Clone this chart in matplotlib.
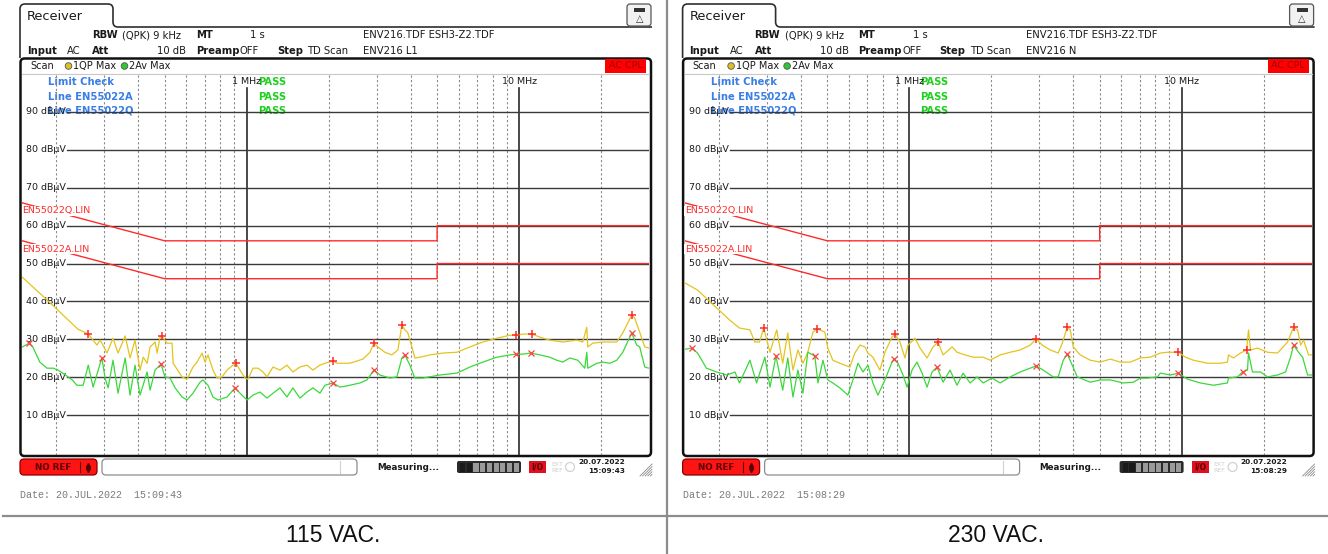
import numpy as np
import matplotlib
matplotlib.use("Agg")
import matplotlib.pyplot as plt
import matplotlib.transforms as mtransforms
from matplotlib.patches import FancyBboxPatch, Rectangle, Circle, PathPatch
from matplotlib.path import Path

W, H = 1328, 554

# EN55022 class B conducted limits (MHz, dBuV)
lim_f = [0.15, 0.5, 5.0, 5.0, 30.0]
lim_qp = [66, 56, 56, 60, 60]
lim_av = [56, 46, 46, 50, 50]

grid_db = [10, 20, 30, 40, 50, 60, 70, 80, 90]
minor_f = [0.2, 0.3, 0.4, 0.5, 0.6, 0.7, 0.8, 0.9,
           2, 3, 4, 5, 6, 7, 8, 9, 20]

# 115 VAC, line L1 : (MHz, dBuV)
l1_qp = [(0.150, 46.4), (0.185, 40.4), (0.240, 32.7), (0.262, 31.4), (0.282, 28.5),
         (0.290, 29.8), (0.307, 26.4), (0.323, 30.3), (0.337, 26.4), (0.358, 30.9),
         (0.373, 25.1), (0.389, 29.8), (0.406, 21.9), (0.417, 25.3), (0.431, 23.7),
         (0.442, 28.0), (0.461, 29.3), (0.469, 26.4), (0.481, 30.6), (0.487, 30.9),
         (0.510, 29.0), (0.532, 29.0), (0.537, 23.7), (0.579, 20.1), (0.604, 19.5),
         (0.635, 22.7), (0.657, 24.0), (0.686, 26.4), (0.703, 24.0), (0.721, 25.9),
         (0.752, 21.9), (0.778, 19.8), (0.812, 20.1), (0.847, 21.9), (0.891, 23.2),
         (0.914, 23.7), (0.945, 21.9), (0.986, 19.8), (1.011, 19.5), (1.055, 22.4),
         (1.100, 22.4), (1.148, 21.4), (1.187, 20.1), (1.249, 22.7), (1.325, 21.9),
         (1.405, 23.2), (1.478, 21.4), (1.568, 22.7), (1.664, 23.2), (1.751, 21.9),
         (1.857, 23.2), (1.938, 23.7), (2.073, 24.3), (2.145, 23.7), (2.393, 23.7),
         (2.671, 24.8), (2.834, 26.6), (2.931, 29.0), (3.032, 28.0), (3.217, 26.6),
         (3.412, 25.9), (3.589, 27.2), (3.713, 33.8), (3.808, 32.5), (3.905, 31.7),
         (4.040, 28.0), (4.143, 25.1), (4.322, 25.3), (4.704, 25.9), (5.250, 26.4),
         (5.908, 26.6), (6.594, 28.0), (7.361, 29.3), (8.284, 30.3), (9.246, 31.1),
         (9.725, 31.1), (10.32, 31.4), (11.13, 31.4), (11.91, 30.6), (12.96, 29.8),
         (14.47, 29.3), (16.28, 29.8), (17.13, 29.3), (17.72, 33.2), (17.87, 28.0),
         (18.64, 29.0), (20.28, 29.3), (22.83, 29.3), (24.02, 31.7), (25.91, 36.4),
         (26.57, 35.6), (27.72, 31.9), (28.92, 28.0), (30.0, 27.7)]
l1_av = [(0.150, 28.0), (0.159, 29.0), (0.164, 28.0), (0.174, 24.0), (0.185, 22.4),
         (0.195, 22.4), (0.203, 21.9), (0.216, 20.6), (0.229, 19.3), (0.238, 17.9),
         (0.251, 17.9), (0.262, 23.2), (0.273, 17.4), (0.285, 21.9), (0.294, 25.1),
         (0.302, 19.8), (0.310, 17.2), (0.323, 24.5), (0.337, 15.8), (0.358, 25.1),
         (0.373, 15.3), (0.389, 23.2), (0.406, 15.3), (0.431, 21.4), (0.442, 16.6),
         (0.461, 21.9), (0.485, 23.5), (0.501, 20.1), (0.523, 19.8), (0.546, 17.2),
         (0.579, 14.8), (0.604, 14.0), (0.635, 15.8), (0.674, 18.7), (0.691, 19.3),
         (0.721, 17.9), (0.752, 14.8), (0.785, 14.0), (0.847, 14.8), (0.906, 17.2),
         (0.945, 15.8), (1.003, 14.0), (1.055, 15.3), (1.119, 16.1), (1.187, 14.5),
         (1.249, 15.8), (1.325, 17.2), (1.405, 14.8), (1.478, 17.2), (1.568, 14.5),
         (1.664, 16.1), (1.751, 17.2), (1.857, 15.8), (1.938, 17.9), (2.073, 18.5),
         (2.199, 17.4), (2.393, 17.9), (2.604, 18.5), (2.763, 19.3), (2.931, 21.9),
         (3.083, 20.6), (3.356, 19.8), (3.560, 20.1), (3.713, 25.1), (3.808, 25.9),
         (3.972, 23.2), (4.143, 19.8), (4.433, 19.8), (5.119, 20.6), (5.908, 21.1),
         (6.594, 22.7), (7.361, 24.0), (8.284, 25.3), (9.246, 25.9), (9.725, 26.1),
         (10.32, 26.1), (11.04, 26.4), (11.91, 25.9), (12.96, 25.3), (13.75, 24.5),
         (14.47, 24.0), (15.35, 25.1), (16.42, 24.5), (17.42, 22.4), (17.72, 26.6),
         (17.87, 22.4), (19.28, 23.7), (20.28, 24.0), (21.51, 23.7), (22.83, 24.5),
         (24.02, 26.6), (25.91, 31.7), (27.02, 28.5), (27.72, 28.0), (28.92, 22.7),
         (30.0, 22.4)]
l1_qp_peaks = [(0.262, 31.4), (0.487, 30.9), (0.914, 23.7), (2.073, 24.3), (2.931, 29.0),
               (3.713, 33.8), (9.725, 31.1), (11.13, 31.4), (25.91, 36.4)]
l1_av_peaks = [(0.159, 29.0), (0.294, 25.1), (0.485, 23.5), (0.906, 17.2), (2.073, 18.5),
               (2.931, 21.9), (3.808, 25.9), (9.725, 26.1), (11.04, 26.4), (25.91, 31.7)]

# 230 VAC, line N
n_qp = [(0.150, 44.9), (0.167, 43.0), (0.219, 35.1), (0.238, 33.0), (0.260, 32.5),
        (0.271, 29.3), (0.282, 29.3), (0.292, 33.0), (0.308, 26.6), (0.326, 32.5),
        (0.343, 23.7), (0.358, 31.7), (0.374, 21.9), (0.390, 27.2), (0.407, 23.7),
        (0.424, 26.6), (0.443, 31.9), (0.458, 32.7), (0.470, 32.5), (0.490, 31.9),
        (0.502, 27.7), (0.524, 24.5), (0.556, 23.7), (0.605, 22.7), (0.631, 26.4),
        (0.659, 28.5), (0.687, 28.0), (0.705, 26.4), (0.735, 25.3), (0.780, 21.9),
        (0.814, 26.6), (0.864, 30.6), (0.886, 31.4), (0.924, 29.3), (0.964, 25.1),
        (0.989, 28.5), (1.050, 30.3), (1.095, 27.7), (1.162, 25.1), (1.222, 28.0),
        (1.275, 29.3), (1.330, 25.9), (1.436, 28.0), (1.497, 26.6), (1.602, 25.9),
        (1.715, 25.3), (1.866, 25.3), (1.981, 24.5), (2.156, 25.9), (2.346, 26.6),
        (2.553, 27.2), (2.779, 28.5), (2.923, 30.1), (3.076, 28.5), (3.292, 27.2),
        (3.522, 26.4), (3.643, 29.0), (3.801, 33.2), (3.898, 32.5), (3.998, 28.0),
        (4.242, 25.9), (4.616, 24.5), (5.024, 24.0), (5.470, 24.8), (5.952, 24.0),
        (6.478, 24.0), (7.050, 25.1), (7.673, 25.3), (8.350, 26.4), (8.857, 26.6),
        (9.725, 26.6), (10.32, 25.3), (11.04, 24.5), (12.43, 23.7), (13.88, 23.7),
        (14.72, 24.0), (14.85, 25.9), (15.49, 25.1), (16.44, 26.4), (17.30, 27.2),
        (17.59, 32.5), (17.89, 27.2), (18.98, 27.7), (20.66, 26.6), (22.48, 26.4),
        (24.47, 29.3), (25.74, 33.2), (26.63, 32.5), (27.32, 28.5), (28.02, 29.8),
        (29.23, 25.9), (30.0, 25.9)]
n_av = [(0.150, 27.4), (0.159, 27.7), (0.167, 26.4), (0.180, 22.4), (0.196, 21.4),
        (0.214, 20.6), (0.229, 21.4), (0.238, 18.5), (0.260, 24.5), (0.275, 18.5),
        (0.295, 25.3), (0.308, 17.4), (0.324, 25.6), (0.343, 16.6), (0.358, 25.1),
        (0.374, 14.8), (0.390, 21.9), (0.407, 15.8), (0.424, 26.6), (0.450, 25.6),
        (0.462, 18.5), (0.482, 24.5), (0.502, 19.3), (0.524, 18.5), (0.556, 17.2),
        (0.595, 15.3), (0.621, 19.3), (0.648, 23.7), (0.676, 21.4), (0.705, 23.2),
        (0.735, 18.5), (0.767, 15.3), (0.814, 19.3), (0.864, 24.0), (0.878, 24.8),
        (0.909, 23.7), (0.948, 20.6), (0.981, 17.4), (1.023, 21.9), (1.067, 24.0),
        (1.114, 21.1), (1.162, 17.4), (1.212, 21.4), (1.264, 22.7), (1.330, 18.7),
        (1.411, 21.9), (1.497, 17.9), (1.575, 21.1), (1.672, 18.5), (1.774, 20.1),
        (1.866, 18.5), (2.014, 19.8), (2.156, 18.5), (2.346, 20.1), (2.553, 21.4),
        (2.779, 22.4), (2.923, 23.0), (3.101, 21.9), (3.375, 20.1), (3.522, 20.1),
        (3.674, 24.5), (3.801, 26.1), (3.965, 23.2), (4.136, 20.1), (4.616, 18.7),
        (5.024, 19.3), (5.470, 19.3), (6.106, 18.5), (6.643, 18.7), (7.050, 19.8),
        (7.480, 19.8), (8.140, 20.1), (8.350, 21.1), (9.088, 20.6), (9.725, 21.1),
        (10.50, 19.5), (11.72, 18.5), (13.08, 17.9), (14.72, 18.5), (14.85, 19.8),
        (16.02, 20.1), (16.72, 21.4), (17.44, 21.9), (17.59, 26.4), (18.19, 21.4),
        (19.47, 21.4), (20.66, 20.1), (22.48, 20.6), (24.06, 21.4), (25.10, 25.3),
        (25.74, 28.5), (26.85, 26.6), (27.79, 25.3), (28.98, 20.6), (30.0, 20.6)]
n_qp_peaks = [(0.292, 33.0), (0.458, 32.7), (0.886, 31.4), (1.275, 29.3), (2.923, 30.1),
              (3.801, 33.2), (9.725, 26.6), (17.30, 27.2), (25.74, 33.2)]
n_av_peaks = [(0.159, 27.7), (0.324, 25.6), (0.450, 25.6), (0.878, 24.8), (1.264, 22.7),
              (2.923, 23.0), (3.801, 26.1), (9.725, 21.1), (16.72, 21.4), (25.74, 28.5)]

YELLOW = "#e3c41c"
GREEN = "#3ad83a"
RED = "#ff2a2a"
BLUE = "#3a7fe6"
PASS_GREEN = "#1fd01f"
GRID = "#3a3a3a"

fig = plt.figure(figsize=(W / 100, H / 100), dpi=100)
bg = fig.add_axes([0, 0, 1, 1])
bg.set_xlim(0, W)
bg.set_ylim(H, 0)
bg.axis("off")


def px_axes(x0, y0, x1, y1):
    return fig.add_axes([x0 / W, 1 - y1 / H, (x1 - x0) / W, (y1 - y0) / H])


def txt(x, y, s, size=7.2, bold=False, color="#1a1a1a", **kw):
    kw.setdefault("ha", "left")
    kw.setdefault("va", "center")
    bg.text(x, y, s, fontsize=size, fontweight="bold" if bold else "normal",
            color=color, **kw)


def draw_panel(dx, qp, av, qp_pk, av_pk, scan_name, date_s, time_s, caption):
    # tab outline and header
    M, L, C = Path.MOVETO, Path.LINETO, Path.CURVE3
    verts = [(20, 58), (20, 9), (20, 4), (25, 4), (108, 4), (113, 4), (113, 9),
             (113, 22), (113, 27), (118, 27), (652, 27)]
    codes = [M, L, C, C, L, C, C, L, C, C, L]
    bg.add_patch(PathPatch(Path([(x + dx, y) for x, y in verts], codes),
                           fc="none", ec="#2e2e2e", lw=1.2))
    txt(27 + dx, 16, "Receiver", size=9.3)

    # header icon
    bg.add_patch(FancyBboxPatch((627 + dx, 4), 24, 22, boxstyle="round,pad=0,rounding_size=3",
                                fc="#f2f2f2", ec="#555555", lw=0.9))
    bg.add_patch(Rectangle((634 + dx, 7.5), 11, 4, fc="#333333", ec="none"))
    txt(639.5 + dx, 19, "\u25b3", size=7, ha="center", color="#333333")

    txt(92 + dx, 35, "RBW", bold=True)
    txt(122 + dx, 35, "(QPK) 9 kHz")
    txt(196 + dx, 35, "MT", bold=True)
    txt(250 + dx, 35, "1 s")
    txt(363 + dx, 35, "ENV216.TDF ESH3-Z2.TDF")
    txt(27 + dx, 51, "Input", bold=True)
    txt(67 + dx, 51, "AC")
    txt(92 + dx, 51, "Att", bold=True)
    txt(157 + dx, 51, "10 dB")
    txt(196 + dx, 51, "Preamp", bold=True)
    txt(240 + dx, 51, "OFF")
    txt(277 + dx, 51, "Step", bold=True)
    txt(307 + dx, 51, "TD Scan")
    txt(363 + dx, 51, scan_name)

    # diagram frame
    bg.add_patch(FancyBboxPatch((20.5 + dx, 58.5), 630.5, 397.5,
                                boxstyle="round,pad=0,rounding_size=4",
                                fc="white", ec="#111111", lw=1.8, zorder=1))
    bg.plot([22 + dx, 649 + dx], [74, 74], color="#c8c8c8", lw=0.8, zorder=2)
    txt(30 + dx, 66, "Scan", size=7)
    bg.add_patch(Circle((68.5 + dx, 66), 3.3, fc="#e0c020", ec="#555555", lw=0.6, zorder=3))
    txt(73 + dx, 66, "1QP Max", size=7)
    bg.add_patch(Circle((124.5 + dx, 66), 3.3, fc="#30c830", ec="#555555", lw=0.6, zorder=3))
    txt(129 + dx, 66, "2Av Max", size=7)
    bg.add_patch(Rectangle((605 + dx, 59), 41, 14, fc="#ff0000", ec="none", zorder=3))
    txt(625.5 + dx, 66, "AC CPL", size=6.8, ha="center", color="#9a0000", zorder=4)

    # measurement diagram, log frequency axis
    x1m = 246.7 + dx
    dec = 272.4
    xl = x1m + np.log10(0.15) * dec
    xr = x1m + np.log10(30.0) * dec
    ax = px_axes(xl, 74, xr, 455)
    ax.set_xscale("log")
    ax.set_xlim(0.15, 30)
    ax.set_ylim(-0.5, 100)
    ax.patch.set_alpha(0)
    ax.set_axis_off()
    bl = mtransforms.blended_transform_factory(ax.transAxes, ax.transData)
    vb = mtransforms.blended_transform_factory(ax.transData, ax.transAxes)

    for f in minor_f:
        ax.axvline(f, color="#8a8a8a", lw=0.8, ls=(0, (2, 2)), zorder=1)
    for f, lab in [(1.0, "1 MHz"), (10.0, "10 MHz")]:
        ax.axvline(f, ymax=0.962, color="#2a2a2a", lw=1.2, zorder=2)
        ax.text(f, 0.981, lab, transform=vb, fontsize=6.8, ha="center", va="center",
                color="#1a1a1a")
    for g in grid_db:
        ax.axhline(g, xmin=0.072, color=GRID, lw=1.0, zorder=2)
        ax.text(0.006, g, f"{g} dB\u00b5V", transform=bl, fontsize=6.8,
                ha="left", va="center", color="#1a1a1a", zorder=3)

    ax.plot(lim_f, lim_qp, color=RED, lw=1.0, zorder=4)
    ax.plot(lim_f, lim_av, color=RED, lw=1.0, zorder=4)
    ax.text(0.0, 63.9, "EN55022Q.LIN", transform=bl, fontsize=6.8, color=RED,
            ha="left", va="center", zorder=6,
            bbox=dict(fc="white", ec="none", pad=0.4))
    ax.text(0.0, 53.8, "EN55022A.LIN", transform=bl, fontsize=6.8, color=RED,
            ha="left", va="center", zorder=6,
            bbox=dict(fc="white", ec="none", pad=0.4))

    qf, qv = np.array(qp).T
    af, av_v = np.array(av).T
    ax.plot(qf, qv, color=YELLOW, lw=0.9, zorder=5)
    ax.plot(af, av_v, color=GREEN, lw=0.9, zorder=5)
    pf, pv = np.array(qp_pk).T
    ax.plot(pf, pv, ls="none", marker="+", ms=6, mew=1.1, color=RED, zorder=7)
    pf, pv = np.array(av_pk).T
    ax.plot(pf, pv, ls="none", marker="x", ms=5, mew=0.9, color="#ff4040", zorder=7)

    # limit check box
    txt(48 + dx, 82, "Limit Check", bold=True, color=BLUE, zorder=3)
    txt(48 + dx, 97, "Line EN55022A", bold=True, color=BLUE, zorder=3)
    txt(48 + dx, 110.5, "Line EN55022Q", bold=True, color=BLUE, zorder=3)
    for yy in (82, 97, 110.5):
        txt(258 + dx, yy, "PASS", bold=True, color=PASS_GREEN, zorder=3)

    # status bar
    bg.add_patch(FancyBboxPatch((20 + dx, 459), 77, 16, boxstyle="round,pad=0,rounding_size=4",
                                fc="#ff1414", ec="#8a0000", lw=0.9))
    txt(35 + dx, 467, "NO REF", size=6.3, bold=True, color="#5a0000")
    bg.plot([80 + dx, 80 + dx], [462, 472], color="#5a0000", lw=0.8)
    bg.plot([88 + dx], [464.5], marker="^", ms=3, color="#5a0000", ls="none")
    bg.plot([88 + dx], [469.5], marker="v", ms=3, color="#5a0000", ls="none")
    bg.add_patch(FancyBboxPatch((102 + dx, 459), 255, 16, boxstyle="round,pad=0,rounding_size=4",
                                fc="white", ec="#8c8c8c", lw=0.9))
    bg.plot([340 + dx, 340 + dx], [461, 473], color="#d0d0d0", lw=0.8)
    txt(377 + dx, 467, "Measuring...", size=6.3, bold=True)
    bg.add_patch(FancyBboxPatch((457 + dx, 461), 64, 12, boxstyle="round,pad=0,rounding_size=2",
                                fc="#2a2a2a", ec="none"))
    for i in range(9):
        col = "#1a1a1a" if i < 2 else "#9a9a9a"
        bg.add_patch(Rectangle((460 + dx + i * 6.7, 462.5), 5.2, 9, fc=col, ec="none"))
    bg.add_patch(Rectangle((529 + dx, 461), 17, 12, fc="#e01020", ec="none"))
    txt(537.5 + dx, 467, "I/O", size=5.5, bold=True, color="#5a0000", ha="center")
    txt(551 + dx, 464, "EXT", size=4.5, color="#cfcfcf")
    txt(551 + dx, 470.5, "REF", size=4.5, color="#cfcfcf")
    bg.add_patch(Circle((570 + dx, 467), 4.5, fc="none", ec="#d2d2d2", lw=0.9))
    txt(625 + dx, 462.5, date_s, size=5.3, bold=True, ha="right")
    txt(625 + dx, 471, time_s, size=5.3, bold=True, ha="right")
    for k in range(5):
        bg.plot([640 + dx + 2.6 * k, 652 + dx], [476, 464 + 2.6 * k], color="#8a8a8a", lw=0.6)

    txt(20 + dx, 495, f"Date: {date_s[:2]}.JUL.{date_s[-4:]}  {time_s}", size=7.2,
        color="#7a7a7a", family="Liberation Mono")
    txt(333 + dx, 535, caption, size=16.5, ha="center", color="#111111",
        family="Liberation Sans")


draw_panel(0, l1_qp, l1_av, l1_qp_peaks, l1_av_peaks, "ENV216 L1",
           "20.07.2022", "15:09:43", "115 VAC.")
draw_panel(662.6, n_qp, n_av, n_qp_peaks, n_av_peaks, "ENV216 N",
           "20.07.2022", "15:08:29", "230 VAC.")

# table rules between the two screenshots
bg.plot([666.5, 666.5], [0, H], color="#8c8c8c", lw=1.6)
bg.plot([3, W], [515.5, 515.5], color="#8c8c8c", lw=1.6)

fig.savefig("out.png", dpi=100)
